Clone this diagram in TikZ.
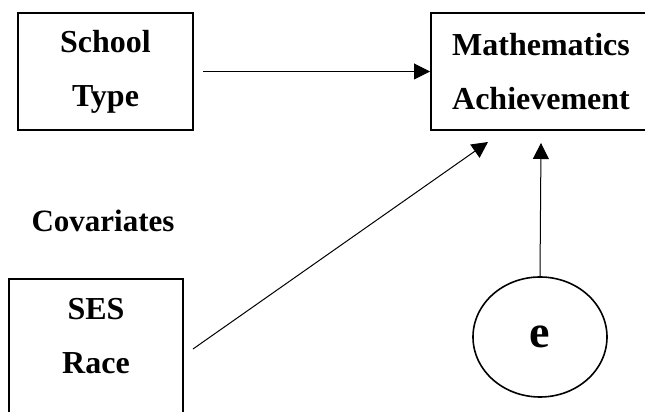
\documentclass[tikz,border=0pt]{standalone}
\usepackage{fontspec}
\setmainfont{Liberation Serif}
\usetikzlibrary{arrows.meta,shapes.geometric}
\begin{document}
\begin{tikzpicture}[x=1pt,y=1pt,
  varbox/.style={draw, line width=2pt, rectangle, align=center, inner sep=0pt,
    font=\bfseries\fontsize{32}{54}\selectfont},
  conn/.style={line width=1pt, -{Triangle[length=16pt,width=16pt]}},
  errnode/.style={draw, line width=1.6pt, ellipse, minimum width=134pt, minimum height=120pt,
    inner sep=0pt, font=\bfseries\fontsize{46}{50}\selectfont},
  lbl/.style={font=\bfseries\fontsize{31}{36}\selectfont}]
\clip (0,0) rectangle (645,412);
\fill[white] (0,0) rectangle (645,412);
\node[varbox, minimum width=175pt, minimum height=117pt] (school) at (105.5,340.5) {School\\Type};
\node[varbox, minimum width=220pt, minimum height=117pt] (math) at (541,340.5) {Mathematics\\Achievement};
\node[varbox, minimum width=174pt, minimum height=160pt, anchor=north,
  label={[anchor=north, yshift=-17pt, align=center, font=\bfseries\fontsize{32}{54}\selectfont]north:SES\\Race}] (ses) at (96,134) {};
\node[errnode] (e) at (540,75) {e};
\node[lbl, anchor=base] (cov) at (103,180) {Covariates};
\coordinate (sesout) at (193,63);
\coordinate (mathin) at (488,270);
\draw[conn] ([xshift=9pt]school.east) -- (math.west);
\draw[conn] (sesout) -- (mathin);
\draw[conn] (e.north) -- ([yshift=-12pt]math.south);
\end{tikzpicture}
\end{document}
